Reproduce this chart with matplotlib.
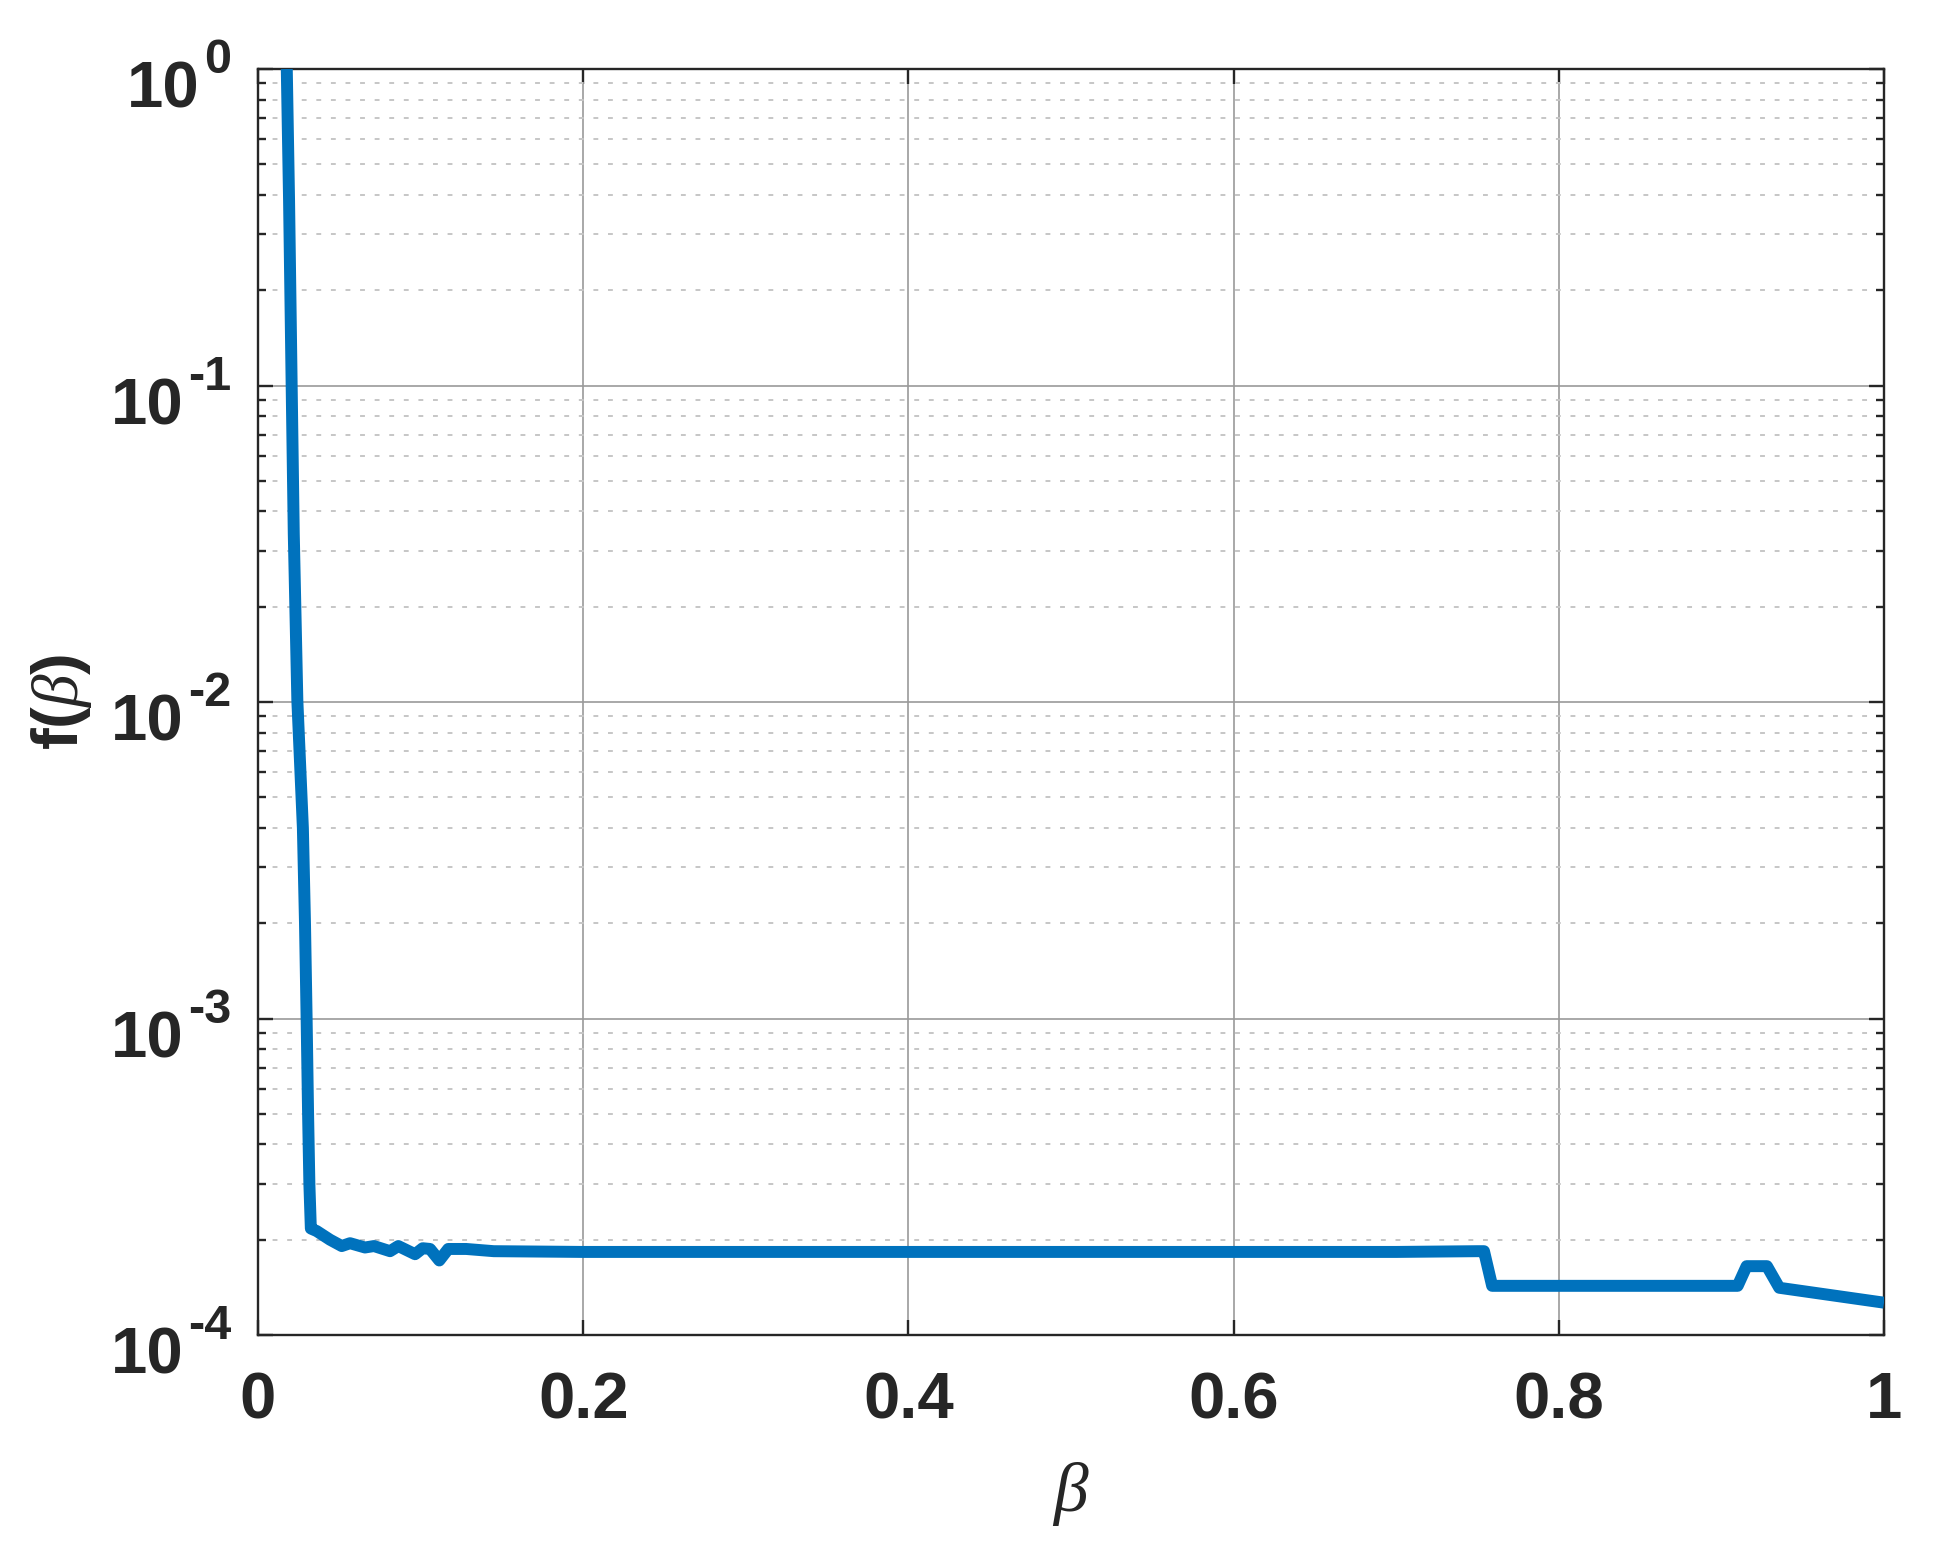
import matplotlib
matplotlib.use("Agg")
import matplotlib.pyplot as plt
import matplotlib.transforms as mtransforms
from matplotlib.ticker import FixedLocator, FixedFormatter, NullFormatter

# ---- data ----
beta = [0.0177, 0.0191, 0.0207, 0.0220, 0.0242, 0.0276, 0.0289, 0.0299, 0.0308,
        0.0316, 0.0325, 0.0361, 0.0443, 0.0515, 0.0566, 0.0658, 0.0713, 0.0812,
        0.0863, 0.0966, 0.1013, 0.1058, 0.1115, 0.1170, 0.1280, 0.1450, 0.2000,
        0.5000, 0.7000, 0.7500, 0.7540, 0.7590, 0.9100, 0.9155, 0.9280, 0.9356,
        1.0000]
f_beta = [1.0, 0.385, 0.1, 0.034, 0.0101, 4.0e-3, 2.0e-3, 1.0e-3, 5.0e-4,
          3.0e-4, 2.17e-4, 2.13e-4, 2.0e-4, 1.91e-4, 1.95e-4, 1.89e-4, 1.91e-4, 1.84e-4,
          1.91e-4, 1.80e-4, 1.88e-4, 1.87e-4, 1.72e-4, 1.87e-4, 1.87e-4, 1.84e-4, 1.83e-4,
          1.83e-4, 1.83e-4, 1.84e-4, 1.84e-4, 1.43e-4, 1.43e-4, 1.65e-4, 1.65e-4, 1.41e-4,
          1.265e-4]

x_ticks = [0, 0.2, 0.4, 0.6, 0.8, 1.0]
x_tick_labels = ["0", "0.2", "0.4", "0.6", "0.8", "1"]
y_ticks = [1e-4, 1e-3, 1e-2, 1e-1, 1e0]
y_tick_base = "10"
y_tick_exps = ["-4", "-3", "-2", "-1", "0"]

# ---- style ----
plt.rcParams["font.family"] = ["Liberation Sans", "DejaVu Sans"]
plt.rcParams["font.weight"] = "bold"
plt.rcParams["mathtext.fontset"] = "custom"
plt.rcParams["mathtext.rm"] = "Liberation Sans:weight=bold"
plt.rcParams["mathtext.bf"] = "Liberation Sans:weight=bold"
plt.rcParams["mathtext.it"] = "Liberation Serif:style=italic:weight=normal"

axc = "#262626"
fs = 47
fs_sup = 35
DPI = 100

fig = plt.figure(figsize=(19.57, 15.57), dpi=DPI)
ax = fig.add_axes([258/1957, 1 - 1335/1557, (1884-258)/1957, (1335-69)/1557])

ax.plot(beta, f_beta, color="#0072BD", lw=8.6, solid_capstyle="butt",
        solid_joinstyle="round", zorder=3)

ax.set_yscale("log")
ax.set_xlim(0, 1)
ax.set_ylim(1e-4, 1)

ax.xaxis.set_major_locator(FixedLocator(x_ticks))
ax.xaxis.set_major_formatter(FixedFormatter(x_tick_labels))
ax.yaxis.set_major_locator(FixedLocator(y_ticks))
ax.yaxis.set_major_formatter(NullFormatter())
minors = [m * 10.0**e for e in range(-4, 0) for m in range(2, 10)]
ax.yaxis.set_minor_locator(FixedLocator(minors))
ax.yaxis.set_minor_formatter(NullFormatter())

ax.grid(True, which="major", axis="both", color="#9a9a9a", lw=1.2, zorder=0)
ax.grid(True, which="minor", axis="y", color="#c6c6c6", lw=1.4,
        linestyle=(0, (2.5, 5)), zorder=0)
ax.set_axisbelow(True)

for s in ax.spines.values():
    s.set_color(axc)
    s.set_linewidth(1.7)

ax.tick_params(which="both", direction="in", top=True, right=True,
               color=axc, width=1.7, labelcolor=axc, labelsize=fs)
ax.tick_params(which="major", length=11)
ax.tick_params(which="minor", length=6)
ax.tick_params(axis="x", which="major", pad=26)

# y tick labels: "10" with a raised exponent
blend = mtransforms.blended_transform_factory(ax.transAxes, ax.transData)
sup_x = -19.5   # points from the left spine
gap = 3.0
sups = []
for yv, ex in zip(y_ticks, y_tick_exps):
    tr = mtransforms.offset_copy(blend, fig=fig, x=sup_x, y=-3.0, units="points")
    t = ax.text(0, yv, ex, transform=tr, ha="right", va="baseline",
                fontsize=fs_sup, color=axc, fontweight="bold", clip_on=False)
    sups.append(t)
fig.canvas.draw()
renderer = fig.canvas.get_renderer()
for yv, t in zip(y_ticks, sups):
    w_pt = t.get_window_extent(renderer).width * 72.0 / DPI
    tr = mtransforms.offset_copy(blend, fig=fig, x=sup_x - w_pt - gap, y=-28.0,
                                 units="points")
    ax.text(0, yv, y_tick_base, transform=tr, ha="right", va="baseline",
            fontsize=fs, color=axc, fontweight="bold", clip_on=False)

ax.set_xlabel(r"$\beta$", fontsize=50, color=axc)
ax.set_ylabel(r"f($\beta$)", fontsize=fs, color=axc, fontweight="bold")
ax.xaxis.set_label_coords(0.5, (1335 - 1460) / 1266)
ax.yaxis.set_label_coords((94 - 258) / 1626, 0.5)

fig.savefig("out.png", dpi=DPI)
